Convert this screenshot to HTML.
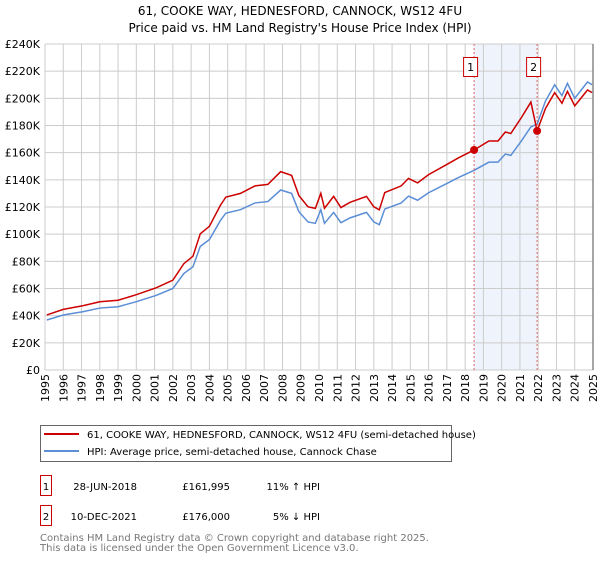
<!DOCTYPE html>
<html><head><meta charset="utf-8"><style>
body{margin:0;background:#fff;font-family:"DejaVu Sans","Liberation Sans",sans-serif;}
svg text{font-family:"DejaVu Sans","Liberation Sans",sans-serif;}
</style></head><body>
<svg id="c" width="600" height="560" xmlns="http://www.w3.org/2000/svg">
<text x="300" y="15" text-anchor="middle" font-size="12" fill="#000">61, COOKE WAY, HEDNESFORD, CANNOCK, WS12 4FU</text>
<text x="300" y="32" text-anchor="middle" font-size="12" fill="#000">Price paid vs. HM Land Registry's House Price Index (HPI)</text>
<g id="plot"></g>
<g>
<rect x="40.5" y="425.5" width="411" height="36" fill="#fff" stroke="#666"/>
<line x1="44" y1="434" x2="79" y2="434" stroke="#cc0000" stroke-width="2"/>
<text x="87" y="438" font-size="10">61, COOKE WAY, HEDNESFORD, CANNOCK, WS12 4FU (semi-detached house)</text>
<line x1="44" y1="451" x2="79" y2="451" stroke="#5b8ed6" stroke-width="2"/>
<text x="87" y="455" font-size="10">HPI: Average price, semi-detached house, Cannock Chase</text>
</g>
<g>
<rect x="40.5" y="475.5" width="11" height="20" fill="#fff" stroke="#cc0000"/>
<text x="46" y="490" font-size="10" text-anchor="middle">1</text>
<text x="137" y="490" font-size="10" text-anchor="end">28-JUN-2018</text>
<text x="230" y="490" font-size="10" text-anchor="end">£161,995</text>
<text x="320" y="490" font-size="10" text-anchor="end">11% ↑ HPI</text>
<rect x="40.5" y="505.5" width="11" height="20" fill="#fff" stroke="#cc0000"/>
<text x="46" y="520" font-size="10" text-anchor="middle">2</text>
<text x="137" y="520" font-size="10" text-anchor="end">10-DEC-2021</text>
<text x="230" y="520" font-size="10" text-anchor="end">£176,000</text>
<text x="320" y="520" font-size="10" text-anchor="end">5% ↓ HPI</text>
</g>
<text x="40" y="541" font-size="10" fill="#777">Contains HM Land Registry data © Crown copyright and database right 2025.</text>
<text x="40" y="551" font-size="10" fill="#777">This data is licensed under the Open Government Licence v3.0.</text>
</svg>
<script>
const hpiDates=[1995.1,1996.0,1997.1,1998.0,1999.0,2000.0,2001.1,2002.0,2002.6,2003.1,2003.5,2004.0,2004.6,2004.9,2005.7,2006.5,2007.2,2007.9,2008.5,2008.9,2009.4,2009.8,2010.1,2010.3,2010.8,2011.2,2011.7,2012.6,2013.0,2013.3,2013.6,2014.5,2014.9,2015.4,2016.0,2017.1,2017.6,2018.49,2019.3,2019.8,2020.2,2020.5,2021.1,2021.6,2021.94,2022.4,2022.9,2023.3,2023.6,2024.0,2024.7,2024.95];
const hpiValues=[36.8,40.5,43,45.6,46.6,50.3,55,60,71,76,91,96,110,115.5,118,123,124,132.5,130,116.5,109,108,118,108,116,108.5,112,116,109,107,118.5,123,128,125,130.5,138,141.5,147,153,153,159,158,169,179,181,198,210,202,211,200,212,210];
const saleDates=[2018.49,2021.94];
const salePrices=[161.995,176.0];
const yTicks=[0,20,40,60,80,100,120,140,160,180,200,220,240];
const xTicks=[1995,1996,1997,1998,1999,2000,2001,2002,2003,2004,2005,2006,2007,2008,2009,2010,2011,2012,2013,2014,2015,2016,2017,2018,2019,2020,2021,2022,2023,2024,2025];
const NS="http://www.w3.org/2000/svg";
const L=45,R=593,T=44,B=370;
const X=t=>L+(t-1995)/30*(R-L);
const Y=v=>B-v/240*(B-T);
const g=document.getElementById('plot');
function mk(tag,attrs,parent){const e=document.createElementNS(NS,tag);for(const k in attrs)e.setAttribute(k,attrs[k]);(parent||g).appendChild(e);return e;}
const shade=mk('rect',{x:X(saleDates[0]),y:T,width:X(saleDates[1])-X(saleDates[0]),height:B-T,fill:'#eef3fc'});


yTicks.forEach(v=>{
 const l=mk('line',{x1:L,x2:R,y1:Y(v),y2:Y(v),stroke:'#cccccc','stroke-width':1});
 
 
 const t=mk('text',{x:40,y:Y(v)+4,'text-anchor':'end','font-size':11});
 t.textContent=v===0?'£0':'£'+v+'K';
 
 
});
xTicks.forEach(yr=>{
 const l=mk('line',{x1:X(yr),x2:X(yr),y1:T,y2:B,stroke:'#cccccc','stroke-width':1});
 
 
 const t=mk('text',{x:0,y:0,'text-anchor':'end','font-size':11,transform:'translate('+(X(yr)+4)+',374) rotate(-90)'});
 t.textContent=yr;
 
 
});
const ax=mk('line',{x1:R,x2:R,y1:T,y2:B,stroke:'#888','stroke-width':1.5});


function hpiAt(t){for(let i=0;i<hpiDates.length-1;i++){if(t<=hpiDates[i+1]){const f=(t-hpiDates[i])/(hpiDates[i+1]-hpiDates[i]);return hpiValues[i]+f*(hpiValues[i+1]-hpiValues[i]);}}return hpiValues[hpiValues.length-1];}
const ratios=saleDates.map((d,i)=>salePrices[i]/hpiAt(d));
function ratioAt(t){let r=ratios[0];saleDates.forEach((d,i)=>{if(t>=d)r=ratios[i];});return r;}
const hp=mk('polyline',{points:hpiDates.map((d,i)=>X(d)+','+Y(hpiValues[i])).join(' '),fill:'none',stroke:'#5b8ed6','stroke-width':1.5});


let pts=[];
hpiDates.forEach((d,i)=>{
 saleDates.forEach((s,j)=>{if(i>0&&hpiDates[i-1]<s&&d>=s&&d!==s){pts.push(X(s)+','+Y(hpiAt(s)*(j>0?ratios[j-1]:ratios[0])));pts.push(X(s)+','+Y(salePrices[j]));}});
 pts.push(X(d)+','+Y(hpiValues[i]*ratioAt(d)));
});
const pp=mk('polyline',{points:pts.join(' '),fill:'none',stroke:'#cc0000','stroke-width':1.5});


saleDates.forEach((d,i)=>{
 const vl=mk('line',{x1:X(d),x2:X(d),y1:T,y2:B,stroke:'#e06666','stroke-width':1,'stroke-dasharray':'2,2'});
 
 
 const dot=mk('circle',{cx:X(d),cy:Y(salePrices[i]),r:4,fill:'#cc0000'});
 
 
 const bx=mk('rect',{x:X(d)-10.5,y:57.5,width:14,height:19,fill:'#fff',stroke:'#cc0000'});
 
 
 const tx=mk('text',{x:X(d)-3.5,y:71,'text-anchor':'middle','font-size':11});
 tx.textContent=String(i+1);
 
 
});
</script>
</body></html>
